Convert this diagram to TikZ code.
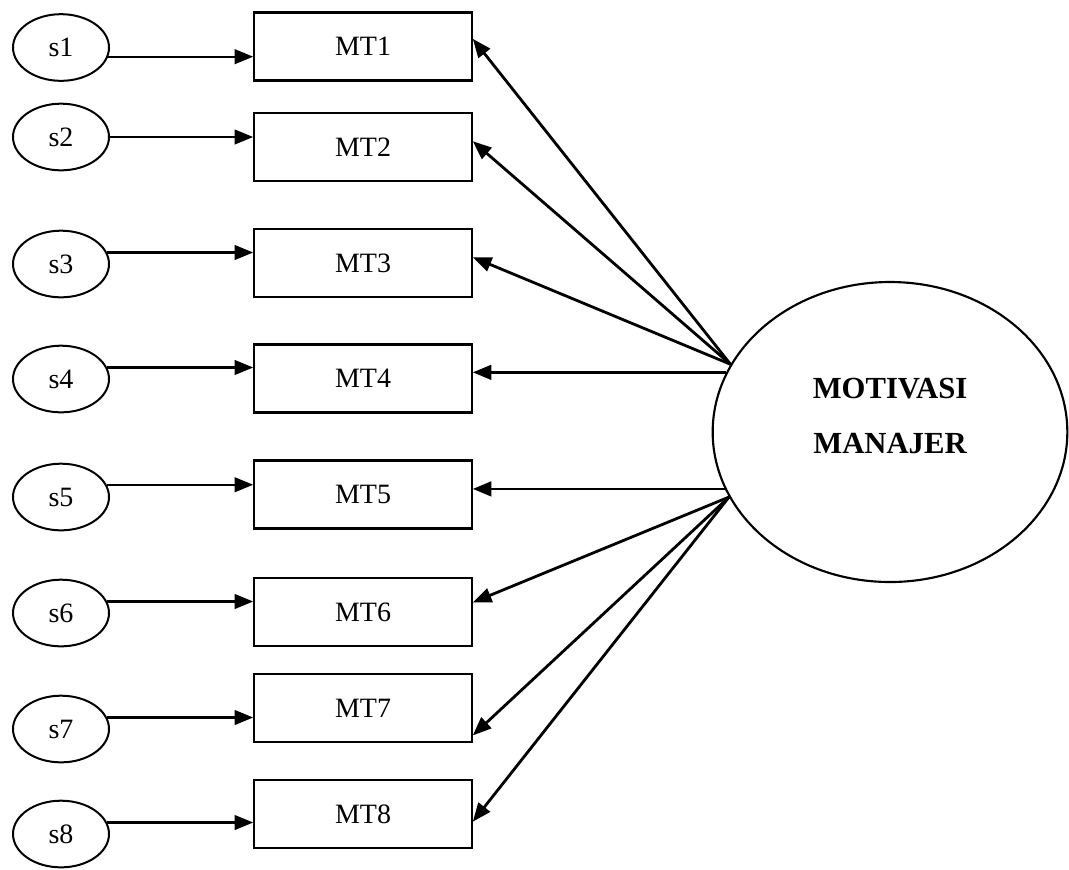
\documentclass[tikz,border=0pt]{standalone}
\usepackage{fontspec}
\setmainfont{Liberation Serif}
\usetikzlibrary{arrows.meta,shapes.geometric}
\begin{document}
\begin{tikzpicture}[x=0.75pt,y=-0.75pt,
  errnode/.style={ellipse, draw, line width=1.5pt, minimum width=72pt, minimum height=50pt,
    inner sep=0pt, font=\fontsize{21}{24}\selectfont},
  indbox/.style={rectangle, draw, line width=1.7pt, minimum width=163pt, minimum height=51pt,
    inner sep=0pt, font=\fontsize{21}{24}\selectfont},
  latent/.style={ellipse, draw, line width=1.6pt, minimum width=266pt, minimum height=225pt,
    inner sep=0pt},
  latlabel/.style={align=center, inner sep=0pt, font=\bfseries\fontsize{23}{41}\selectfont},
  errarrow/.style={-{Triangle[length=14pt,width=11pt]}, line width=1.7pt},
  loadarrow/.style={-{Triangle[length=14pt,width=11pt]}, line width=2.1pt}]
\useasboundingbox (0,0) rectangle (1069,869);

% error terms
\foreach \i/\y in {1/47.5,2/137,3/264,4/379,5/497,6/613,7/729,8/834}
  \node[errnode] (s\i) at (61,\y) {s\i};

% indicator boxes
\foreach \i/\y in {1/46.5,2/147,3/263,4/378.5,5/494.5,6/612,7/708,8/814}
  \node[indbox] (MT\i) at (363,\y) {MT\i};

% latent construct
\node[latent] (MM) at (890,432) {};
\node[latlabel] (MMlabel) at ([yshift=12pt]MM.center) {MOTIVASI\\MANAJER};

% error arrows
\foreach \i/\a in {1/349,2/0,3/14,4/14,5/15,6/14,7/14,8/14}
  \draw[errarrow] (s\i.\a) -- (s\i.\a -| MT\i.west);

% loadings
\draw[loadarrow] (MM.157) -- (MT1.4);
\draw[loadarrow] (MM.157) -- (MT2.3);
\draw[loadarrow] (MM.157) -- (MT3.3);
\draw[loadarrow] (MM.160) -- (MM.160 -| MT4.east);
\draw[loadarrow] (MM.199) -- (MM.199 -| MT5.east);
\draw[loadarrow] (MM.202) -- (MT6.5);
\draw[loadarrow] (MM.202) -- (MT7.346);
\draw[loadarrow] (MM.202) -- (MT8.356);
\end{tikzpicture}
\end{document}
